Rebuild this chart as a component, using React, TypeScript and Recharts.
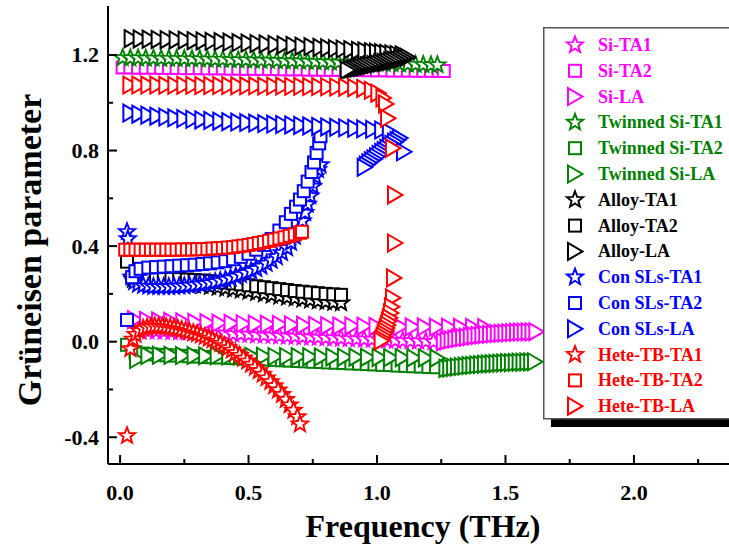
import React from "react";
import { ScatterChart, Scatter, XAxis, YAxis, Legend } from "recharts";

type Pt = [number, number];
type Kind = "star" | "square" | "tri";

const MAGENTA = "#ff00ff";
const GREEN = "#008000";
const BLACK = "#000000";
const BLUE = "#0000ff";
const RED = "#ff0000";
const FONT = '"Liberation Serif", "Times New Roman", serif';

const xTicks = [0, 0.25, 0.5, 0.75, 1, 1.25, 1.5, 1.75, 2, 2.25];
const yTicks = [-0.4, -0.2, 0, 0.2, 0.4, 0.6, 0.8, 1.0, 1.2];

// Si
const siTA1: Pt[] = [[0.08,0.046],[0.11,0.045],[0.14,0.044],[0.17,0.043],[0.2,0.042],[0.23,0.041],[0.26,0.04],[0.29,0.039],[0.32,0.037],[0.35,0.036],[0.38,0.035],[0.41,0.034],[0.44,0.032],[0.47,0.031],[0.5,0.03],[0.53,0.028],[0.56,0.027],[0.59,0.026],[0.62,0.024],[0.65,0.023],[0.68,0.022],[0.71,0.02],[0.74,0.019],[0.77,0.018],[0.8,0.016],[0.83,0.015],[0.86,0.014],[0.89,0.012],[0.92,0.011],[0.95,0.01],[0.98,0.009],[1.01,0.008],[1.04,0.006],[1.07,0.005],[1.1,0.004],[1.13,0.003],[1.16,0.002],[1.19,0.001],[1.22,0.0]];
const siTA2: Pt[] = [[0.01,1.148],[0.04,1.148],[0.07,1.147],[0.1,1.147],[0.13,1.147],[0.16,1.146],[0.19,1.146],[0.22,1.146],[0.25,1.145],[0.28,1.145],[0.31,1.145],[0.34,1.144],[0.37,1.144],[0.4,1.144],[0.43,1.143],[0.46,1.143],[0.49,1.142],[0.52,1.142],[0.55,1.142],[0.58,1.141],[0.61,1.141],[0.64,1.14],[0.67,1.14],[0.7,1.14],[0.73,1.139],[0.76,1.139],[0.79,1.138],[0.82,1.138],[0.85,1.138],[0.88,1.137],[0.91,1.137],[0.94,1.137],[0.97,1.136],[1.0,1.136],[1.03,1.136],[1.06,1.135],[1.09,1.135],[1.12,1.135],[1.15,1.134],[1.18,1.134],[1.21,1.134],[1.24,1.133],[1.26,1.133]];
const siLA: Pt[] = [[0.058,0.092],[0.105,0.089],[0.152,0.087],[0.199,0.085],[0.246,0.083],[0.293,0.081],[0.34,0.08],[0.387,0.078],[0.434,0.077],[0.481,0.075],[0.528,0.074],[0.575,0.073],[0.622,0.072],[0.669,0.07],[0.716,0.069],[0.763,0.068],[0.81,0.067],[0.857,0.066],[0.904,0.066],[0.951,0.065],[0.998,0.064],[1.045,0.063],[1.092,0.063],[1.139,0.062],[1.186,0.062],[1.233,0.061],[1.28,0.061],[1.327,0.06],[1.374,0.06],[1.421,0.059],[1.26,0.0],[1.275,0.004],[1.29,0.008],[1.305,0.011],[1.32,0.014],[1.335,0.017],[1.35,0.019],[1.365,0.022],[1.38,0.024],[1.395,0.026],[1.41,0.028],[1.425,0.03],[1.44,0.031],[1.455,0.033],[1.47,0.034],[1.485,0.035],[1.5,0.036],[1.515,0.037],[1.53,0.038],[1.545,0.039],[1.56,0.04],[1.575,0.04],[1.59,0.041],[1.605,0.041],[1.62,0.042]];

// Twinned Si
const twTA1: Pt[] = [[0.01,1.188],[0.04,1.187],[0.07,1.187],[0.1,1.186],[0.13,1.186],[0.16,1.185],[0.19,1.185],[0.22,1.184],[0.25,1.184],[0.28,1.183],[0.31,1.183],[0.34,1.182],[0.37,1.181],[0.4,1.181],[0.43,1.18],[0.46,1.179],[0.49,1.179],[0.52,1.178],[0.55,1.177],[0.58,1.177],[0.61,1.176],[0.64,1.175],[0.67,1.174],[0.7,1.174],[0.73,1.173],[0.76,1.172],[0.79,1.171],[0.82,1.17],[0.85,1.169],[0.88,1.168],[0.91,1.167],[0.94,1.166],[0.97,1.166],[1.0,1.165],[1.03,1.164],[1.06,1.163],[1.09,1.162],[1.12,1.161],[1.15,1.16],[1.18,1.159],[1.21,1.158],[1.235,1.158]];
const twTA2: Pt[] = [[0.027,-0.013],[0.06,-0.045],[0.09,-0.05],[0.12,-0.053],[0.15,-0.055],[0.18,-0.057],[0.21,-0.058],[0.24,-0.059],[0.27,-0.061],[0.3,-0.062],[0.33,-0.064],[0.36,-0.065],[0.39,-0.066],[0.42,-0.068],[0.45,-0.069],[0.48,-0.071],[0.51,-0.072],[0.54,-0.074],[0.57,-0.075],[0.6,-0.076],[0.63,-0.078],[0.66,-0.079],[0.69,-0.081],[0.72,-0.082],[0.75,-0.084],[0.78,-0.085],[0.81,-0.087],[0.84,-0.088],[0.87,-0.089],[0.9,-0.091],[0.93,-0.092],[0.96,-0.094],[0.99,-0.095],[1.02,-0.097],[1.05,-0.098],[1.08,-0.1],[1.11,-0.101],[1.14,-0.103],[1.17,-0.104],[1.2,-0.106],[1.23,-0.107]];
const twLA: Pt[] = [[0.066,-0.075],[0.11,-0.058],[0.155,-0.057],[0.2,-0.057],[0.245,-0.058],[0.29,-0.058],[0.335,-0.059],[0.38,-0.059],[0.425,-0.06],[0.47,-0.06],[0.515,-0.061],[0.56,-0.061],[0.605,-0.062],[0.65,-0.062],[0.695,-0.063],[0.74,-0.063],[0.785,-0.064],[0.83,-0.064],[0.875,-0.065],[0.92,-0.065],[0.965,-0.066],[1.01,-0.066],[1.055,-0.067],[1.1,-0.067],[1.145,-0.068],[1.19,-0.068],[1.235,-0.069],[1.27,-0.112],[1.285,-0.11],[1.3,-0.108],[1.315,-0.106],[1.33,-0.104],[1.345,-0.102],[1.36,-0.1],[1.375,-0.099],[1.39,-0.097],[1.405,-0.096],[1.42,-0.094],[1.435,-0.093],[1.45,-0.092],[1.465,-0.091],[1.48,-0.09],[1.495,-0.089],[1.51,-0.088],[1.525,-0.088],[1.54,-0.087],[1.555,-0.086],[1.57,-0.086],[1.585,-0.085],[1.6,-0.085],[1.615,-0.084]];

// Alloy
const alTA1: Pt[] = [[0.05,0.26],[0.08,0.255],[0.11,0.252],[0.14,0.25],[0.17,0.248],[0.2,0.246],[0.23,0.244],[0.26,0.241],[0.29,0.238],[0.32,0.235],[0.35,0.231],[0.38,0.227],[0.41,0.223],[0.44,0.219],[0.47,0.215],[0.5,0.21],[0.53,0.205],[0.56,0.2],[0.59,0.195],[0.62,0.19],[0.65,0.186],[0.68,0.182],[0.71,0.178],[0.74,0.174],[0.77,0.17],[0.8,0.167],[0.83,0.164],[0.86,0.162]];
const alTA2: Pt[] = [[0.027,0.335],[0.06,0.28],[0.08,0.27],[0.11,0.265],[0.14,0.265],[0.17,0.264],[0.2,0.263],[0.23,0.262],[0.26,0.26],[0.29,0.258],[0.32,0.256],[0.35,0.253],[0.38,0.25],[0.41,0.247],[0.44,0.244],[0.47,0.24],[0.5,0.236],[0.53,0.232],[0.56,0.228],[0.59,0.224],[0.62,0.22],[0.65,0.216],[0.68,0.212],[0.71,0.209],[0.74,0.206],[0.77,0.203],[0.8,0.2],[0.83,0.198],[0.86,0.196]];
const alLA: Pt[] = [[0.045,1.268],[0.08,1.267],[0.115,1.266],[0.15,1.265],[0.185,1.264],[0.22,1.263],[0.255,1.262],[0.29,1.26],[0.325,1.259],[0.36,1.257],[0.395,1.256],[0.43,1.254],[0.465,1.252],[0.5,1.25],[0.535,1.248],[0.57,1.246],[0.605,1.244],[0.64,1.242],[0.675,1.24],[0.71,1.237],[0.745,1.235],[0.78,1.232],[0.81,1.23],[0.84,1.227],[0.87,1.225],[0.9,1.222],[0.93,1.219],[0.955,1.217],[0.98,1.214],[1.0,1.212],[1.02,1.21],[1.04,1.207],[1.06,1.205],[1.08,1.202],[1.1,1.2],[1.12,1.19],[1.107,1.187],[1.094,1.184],[1.081,1.181],[1.068,1.178],[1.055,1.175],[1.042,1.172],[1.029,1.169],[1.016,1.166],[1.003,1.163],[0.99,1.16],[0.977,1.157],[0.964,1.154],[0.951,1.151],[0.938,1.148],[0.925,1.145],[0.912,1.142],[0.899,1.14],[0.886,1.137]];

// Con SLs
const conTA1: Pt[] = [[0.027,0.46],[0.03,0.43],[0.045,0.27],[0.055,0.25],[0.07,0.24],[0.09,0.235],[0.11,0.232],[0.13,0.23],[0.15,0.23],[0.17,0.23],[0.19,0.23],[0.21,0.231],[0.23,0.232],[0.25,0.233],[0.27,0.235],[0.29,0.237],[0.31,0.24],[0.33,0.243],[0.35,0.246],[0.37,0.25],[0.39,0.255],[0.41,0.26],[0.43,0.266],[0.45,0.273],[0.47,0.28],[0.49,0.288],[0.51,0.296],[0.53,0.305],[0.55,0.315],[0.57,0.327],[0.59,0.34],[0.61,0.355],[0.63,0.372],[0.65,0.392],[0.665,0.415],[0.68,0.44],[0.695,0.47],[0.71,0.505],[0.72,0.54],[0.73,0.575],[0.74,0.61],[0.75,0.65],[0.76,0.69],[0.77,0.72],[0.78,0.74]];
const conTA2: Pt[] = [[0.027,0.091],[0.047,0.27],[0.06,0.295],[0.08,0.305],[0.11,0.31],[0.14,0.312],[0.17,0.314],[0.2,0.316],[0.23,0.318],[0.26,0.32],[0.29,0.322],[0.32,0.325],[0.35,0.328],[0.38,0.332],[0.41,0.337],[0.44,0.345],[0.47,0.355],[0.5,0.368],[0.53,0.385],[0.56,0.405],[0.59,0.43],[0.62,0.465],[0.645,0.5],[0.665,0.535],[0.685,0.565],[0.7,0.595],[0.715,0.63],[0.73,0.67],[0.745,0.71],[0.755,0.75],[0.765,0.79],[0.775,0.83],[0.78,0.86]];
const conLA: Pt[] = [[0.04,0.957],[0.075,0.952],[0.11,0.948],[0.145,0.944],[0.18,0.94],[0.215,0.937],[0.25,0.934],[0.285,0.931],[0.32,0.928],[0.355,0.926],[0.39,0.923],[0.425,0.921],[0.46,0.919],[0.495,0.917],[0.53,0.915],[0.565,0.913],[0.6,0.911],[0.635,0.909],[0.67,0.907],[0.705,0.905],[0.74,0.903],[0.775,0.901],[0.81,0.899],[0.845,0.897],[0.88,0.895],[0.915,0.893],[0.95,0.891],[0.985,0.889],[1.02,0.886],[1.05,0.878],[1.09,0.852],[1.08,0.843],[1.07,0.835],[1.06,0.826],[1.05,0.818],[1.04,0.809],[1.03,0.8],[1.02,0.792],[1.01,0.783],[1.0,0.774],[0.99,0.765],[0.98,0.757],[0.97,0.748],[0.96,0.739],[0.952,0.73],[1.105,0.795]];

// Hete-TB
const htTA1: Pt[] = [[0.027,-0.394],[0.04,-0.03],[0.05,0.01],[0.06,0.03],[0.075,0.045],[0.09,0.055],[0.105,0.06],[0.12,0.063],[0.135,0.065],[0.15,0.065],[0.165,0.064],[0.18,0.062],[0.195,0.06],[0.21,0.057],[0.225,0.054],[0.24,0.05],[0.255,0.046],[0.27,0.042],[0.285,0.037],[0.3,0.032],[0.315,0.027],[0.33,0.021],[0.345,0.014],[0.36,0.007],[0.375,0.0],[0.39,-0.008],[0.405,-0.017],[0.42,-0.026],[0.435,-0.036],[0.45,-0.047],[0.465,-0.058],[0.48,-0.07],[0.495,-0.082],[0.51,-0.095],[0.525,-0.108],[0.54,-0.122],[0.555,-0.137],[0.57,-0.152],[0.585,-0.168],[0.6,-0.185],[0.615,-0.203],[0.63,-0.222],[0.645,-0.243],[0.66,-0.265],[0.675,-0.288],[0.69,-0.315],[0.7,-0.345]];
const htTA2: Pt[] = [[0.02,0.385],[0.04,0.385],[0.06,0.385],[0.08,0.385],[0.1,0.385],[0.12,0.385],[0.14,0.385],[0.16,0.385],[0.18,0.385],[0.2,0.385],[0.22,0.385],[0.24,0.386],[0.26,0.386],[0.28,0.386],[0.3,0.387],[0.32,0.387],[0.34,0.388],[0.36,0.39],[0.38,0.391],[0.4,0.392],[0.42,0.394],[0.44,0.396],[0.46,0.399],[0.48,0.402],[0.5,0.405],[0.52,0.409],[0.54,0.413],[0.56,0.417],[0.58,0.422],[0.6,0.427],[0.62,0.432],[0.64,0.437],[0.66,0.443],[0.68,0.449],[0.7,0.456],[0.708,0.46]];
const htLA: Pt[] = [[0.04,1.074],[0.075,1.074],[0.11,1.074],[0.145,1.074],[0.18,1.073],[0.215,1.073],[0.25,1.073],[0.285,1.073],[0.32,1.072],[0.355,1.072],[0.39,1.072],[0.425,1.072],[0.46,1.071],[0.495,1.071],[0.53,1.071],[0.565,1.07],[0.6,1.07],[0.635,1.07],[0.67,1.069],[0.705,1.069],[0.74,1.068],[0.775,1.068],[0.81,1.067],[0.845,1.066],[0.88,1.065],[0.915,1.063],[0.95,1.06],[0.98,1.052],[1.005,1.04],[1.025,1.02],[1.035,0.995],[1.043,0.935],[1.062,0.81],[1.07,0.614],[1.07,0.413],[1.066,0.267],[1.062,0.183],[1.058,0.146],[1.054,0.12],[1.05,0.1],[1.046,0.085],[1.042,0.07],[1.038,0.057],[1.034,0.045],[1.03,0.034],[1.026,0.023],[1.022,0.012],[1.018,0.003]];

const series: { name: string; color: string; kind: Kind; data: Pt[] }[] = [
  { name: "Si-TA1", color: MAGENTA, kind: "star", data: siTA1 },
  { name: "Si-TA2", color: MAGENTA, kind: "square", data: siTA2 },
  { name: "Si-LA", color: MAGENTA, kind: "tri", data: siLA },
  { name: "Twinned Si-TA1", color: GREEN, kind: "star", data: twTA1 },
  { name: "Twinned Si-TA2", color: GREEN, kind: "square", data: twTA2 },
  { name: "Twinned Si-LA", color: GREEN, kind: "tri", data: twLA },
  { name: "Alloy-TA1", color: BLACK, kind: "star", data: alTA1 },
  { name: "Alloy-TA2", color: BLACK, kind: "square", data: alTA2 },
  { name: "Alloy-LA", color: BLACK, kind: "tri", data: alLA },
  { name: "Con SLs-TA1", color: BLUE, kind: "star", data: conTA1 },
  { name: "Con SLs-TA2", color: BLUE, kind: "square", data: conTA2 },
  { name: "Con SLs-LA", color: BLUE, kind: "tri", data: conLA },
  { name: "Hete-TB-TA1", color: RED, kind: "star", data: htTA1 },
  { name: "Hete-TB-TA2", color: RED, kind: "square", data: htTA2 },
  { name: "Hete-TB-LA", color: RED, kind: "tri", data: htLA },
];

function Marker({ kind, cx, cy, color }: { kind: Kind; cx?: number; cy?: number; color: string }) {
  if (cx == null || cy == null || isNaN(cx) || isNaN(cy)) return null;
  if (kind === "square") {
    return <rect x={cx - 6} y={cy - 6} width={12} height={12} fill="#fff" stroke={color} strokeWidth={2} />;
  }
  if (kind === "tri") {
    return <polygon points={`${cx - 7},${cy - 8.5} ${cx + 7.5},${cy} ${cx - 7},${cy + 8.5}`} fill="#fff" stroke={color} strokeWidth={2} strokeLinejoin="miter" />;
  }
  const pts: string[] = [];
  for (let i = 0; i < 10; i++) {
    const a = (-90 + i * 36) * (Math.PI / 180);
    const r = i % 2 === 0 ? 8.5 : 3.6;
    pts.push(`${cx + r * Math.cos(a)},${cy + r * Math.sin(a)}`);
  }
  return <polygon points={pts.join(" ")} fill="#fff" stroke={color} strokeWidth={1.9} />;
}

function XTick(props: any) {
  const { x, y, payload } = props;
  const v = payload.value as number;
  const major = Math.abs(v * 2 - Math.round(v * 2)) < 1e-6;
  return (
    <g>
      <line x1={x} x2={x} y1={y} y2={y - (major ? 9 : 5)} stroke="#000" strokeWidth={2} />
      {major && (
        <text x={x} y={y + 36} textAnchor="middle" fontFamily={FONT} fontWeight="bold" fontSize={22} fill="#000">
          {v.toFixed(1)}
        </text>
      )}
    </g>
  );
}

function YTick(props: any) {
  const { x, y, payload } = props;
  const v = payload.value as number;
  const major = Math.abs(v / 0.4 - Math.round(v / 0.4)) < 1e-6;
  return (
    <g>
      <line x1={x} x2={x + (major ? 9 : 5)} y1={y} y2={y} stroke="#000" strokeWidth={2} />
      {major && (
        <text x={x - 9} y={y + 7.5} textAnchor="end" fontFamily={FONT} fontWeight="bold" fontSize={22} fill="#000">
          {v.toFixed(1)}
        </text>
      )}
    </g>
  );
}

function LegendBox() {
  return (
    <svg width={200} height={420} style={{ display: "block" }}>
      <rect x={8} y={8} width={192} height={392} fill="#000" />
      <rect x={0.75} y={0.75} width={210} height={391} fill="#fff" stroke="#555" strokeWidth={1.5} />
      {series.map((s, i) => {
        const cy = 18 + i * 25.8;
        return (
          <g key={s.name}>
            <Marker kind={s.kind} cx={32} cy={cy} color={s.color} />
            <text x={55} y={cy + 6} fontFamily={FONT} fontWeight="bold" fontSize={18} fill={s.color}>
              {s.name}
            </text>
          </g>
        );
      })}
    </svg>
  );
}

export default function App() {
  return (
    <div style={{ position: "absolute", left: 0, top: 0, width: 729, height: 552, overflow: "hidden", background: "#fff" }}>
      <ScatterChart width={729} height={552} margin={{ top: 6, right: 0, bottom: 0, left: 0 }}>
        <XAxis
          type="number"
          dataKey="x"
          domain={[-0.047, 2.37]}
          ticks={xTicks}
          interval={0}
          allowDataOverflow
          height={88}
          tickSize={0}
          tickMargin={0}
          tickLine={false}
          tick={<XTick />}
          axisLine={{ stroke: "#000", strokeWidth: 2 }}
          label={() => (
            <text x={423} y={537} textAnchor="middle" fontFamily={FONT} fontWeight="bold" fontSize={32} fill="#000">
              Frequency (THz)
            </text>
          )}
        />
        <YAxis
          type="number"
          dataKey="y"
          domain={[-0.512, 1.405]}
          ticks={yTicks}
          interval={0}
          allowDataOverflow
          width={108}
          tickSize={0}
          tickMargin={0}
          tickLine={false}
          tick={<YTick />}
          axisLine={{ stroke: "#000", strokeWidth: 2 }}
          label={() => (
            <text x={41} y={250} transform="rotate(-90, 41, 250)" textAnchor="middle" fontFamily={FONT} fontWeight="bold" fontSize={34} fill="#000">
              Grüneisen parameter
            </text>
          )}
        />
        {series.map((s) => (
          <Scatter
            key={s.name}
            name={s.name}
            data={s.data.map(([x, y]) => ({ x, y }))}
            fill={s.color}
            isAnimationActive={false}
            shape={(p: any) => <Marker kind={s.kind} cx={p.cx} cy={p.cy} color={s.color} />}
          />
        ))}
        <Legend
          layout="vertical"
          align="center"
          verticalAlign="middle"
          content={() => <LegendBox />}
          wrapperStyle={{ position: "absolute", left: 543, top: 27, width: 200, height: 420, margin: 0, padding: 0 }}
        />
      </ScatterChart>
    </div>
  );
}
